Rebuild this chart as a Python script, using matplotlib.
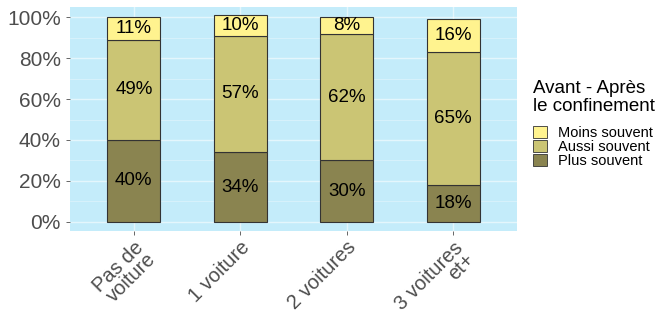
import matplotlib.pyplot as plt
import numpy as np

plt.rcParams["font.family"] = ["Liberation Sans", "DejaVu Sans"]

categories = ["Pas de\nvoiture", "1 voiture", "2 voitures", "3 voitures\net+"]
plus_souvent = [40, 34, 30, 18]
aussi_souvent = [49, 57, 62, 65]
moins_souvent = [11, 10, 8, 16]

colors = {"Plus souvent": "#8a8450", "Aussi souvent": "#cbc574", "Moins souvent": "#fff38f"}
grey = "#4d4d4d"

fig = plt.figure(figsize=(6.6, 3.24), dpi=100)
ax = fig.add_axes((70 / 660, 1 - 231 / 324, 447 / 660, 224 / 324))
ax.set_facecolor("#c4ecfa")

x = np.arange(1, len(categories) + 1)
bottom = np.zeros(len(categories))
for name, vals in [("Plus souvent", plus_souvent), ("Aussi souvent", aussi_souvent),
                   ("Moins souvent", moins_souvent)]:
    v = np.array(vals) / 100
    ax.bar(x, v, 0.5, bottom=bottom, color=colors[name], edgecolor="#333333",
           linewidth=0.8, label=name, zorder=3)
    for xi, b, h in zip(x, bottom, v):
        ax.text(xi, b + h / 2, f"{round(h * 100)}%", ha="center", va="center",
                fontsize=13.5, color="black", zorder=4)
    bottom += v

ax.set_xlim(0.4, 4.6)
ax.set_ylim(-0.045, 1.05)
ax.set_yticks(np.arange(0, 1.01, 0.2))
ax.set_yticklabels([f"{int(t * 100)}%" for t in np.arange(0, 1.01, 0.2)])
ax.set_yticks(np.arange(0.1, 1.0, 0.2), minor=True)
ax.set_xticks(x)
ax.set_xticklabels(categories, rotation=45, ha="right", rotation_mode="anchor",
                   multialignment="right", linespacing=0.85)
ax.tick_params(axis="both", colors=grey, labelsize=15, length=3, width=0.6)
ax.tick_params(axis="x", labelsize=14.5, pad=2)
ax.tick_params(axis="y", which="minor", length=0)
ax.grid(True, which="major", color="white", linewidth=1.0, alpha=0.55, zorder=0)
ax.grid(True, which="minor", axis="y", color="white", linewidth=0.5, alpha=0.45, zorder=0)
for s in ax.spines.values():
    s.set_visible(False)

handles, labels = ax.get_legend_handles_labels()
leg = fig.legend(handles[::-1], labels[::-1], loc="upper left",
                 bbox_to_anchor=(527 / 660, 1 - 74 / 324),
                 title="Avant - Après\nle confinement", title_fontsize=13.5,
                 fontsize=10.5, frameon=False, handlelength=1.0, handleheight=0.85,
                 handletextpad=0.75, labelspacing=0.0, borderaxespad=0)
leg._legend_box.align = "left"
leg._legend_box.sep = 8
leg.get_title().set_linespacing(1.1)
for h in leg.legend_handles:
    h.set_linewidth(0.6)

fig.savefig("out.png", dpi=100)
